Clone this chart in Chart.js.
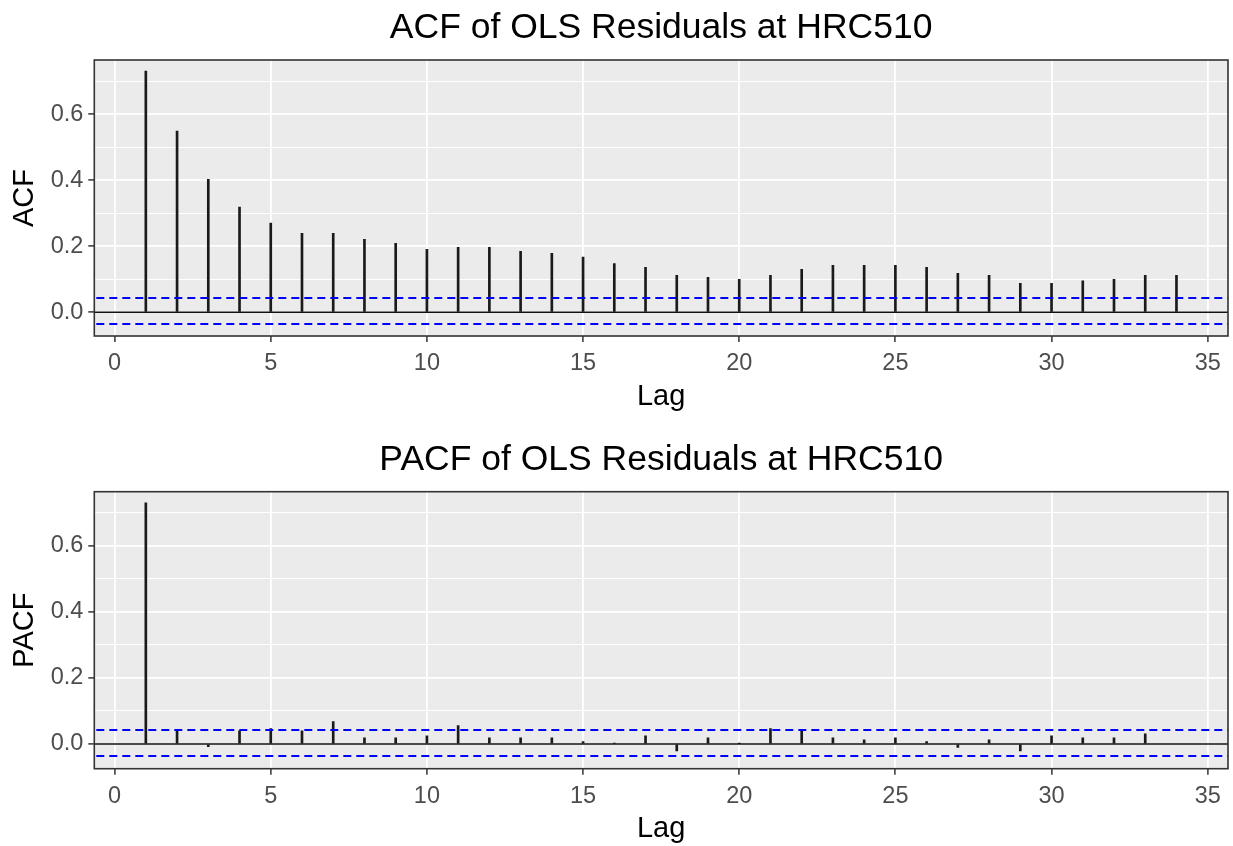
<!DOCTYPE html>
<html>
<head>
<meta charset="utf-8">
<script src="https://cdn.jsdelivr.net/npm/chart.js@4.4.0/dist/chart.umd.min.js"></script>
<style>
  html, body { margin: 0; padding: 0; background: #fff; }
  #wrap { position: relative; width: 1233px; height: 846px; }
  .panel { position: absolute; left: 0; width: 1233px; }
</style>
</head>
<body>
<div id="wrap">
  <div class="panel" style="top:0;height:432px"><canvas id="acf"></canvas></div>
  <div class="panel" style="top:432px;height:414px"><canvas id="pacf"></canvas></div>
</div>
<script>
// values
const acfLags = [1,2,3,4,5,6,7,8,9,10,11,12,13,14,15,16,17,18,19,20,21,22,23,24,25,26,27,28,29,30,31,32,33,34];
const acfValues = [0.731,0.549,0.403,0.319,0.270,0.239,0.239,0.221,0.209,0.191,0.197,0.197,0.185,0.179,0.167,0.148,0.136,0.112,0.106,0.100,0.112,0.130,0.142,0.142,0.142,0.136,0.118,0.112,0.088,0.088,0.095,0.100,0.112,0.112];
const acfBand = [0.0433, -0.0355];

const pacfLags = [1,2,3,4,5,6,7,8,9,10,11,12,13,14,15,16,17,18,19,20,21,22,23,24,25,26,27,28,29,30,31,32,33];
const pacfValues = [0.731,0.040,-0.008,0.040,0.047,0.040,0.068,0.019,0.019,0.025,0.056,0.019,0.019,0.019,0.007,0.002,0.025,-0.021,0.019,0.001,0.047,0.040,0.019,0.013,0.019,0.007,-0.010,0.013,-0.021,0.025,0.019,0.019,0.031];
const pacfBand = [0.0424, -0.036];

const xTicks = [0,5,10,15,20,25,30,35];
const yGridTicks = [0,0.1,0.2,0.3,0.4,0.5,0.6,0.7];
const yLabelTicks = [0,0.2,0.4,0.6];

const FONT = "'Liberation Sans', Arial, sans-serif";
const isMajorY = v => yLabelTicks.some(t => Math.abs(t - v) < 1e-9);

// ggplot-like panel: grey background, black frame, zero line, blue dashed bounds, title over the panel
const ggPanel = {
  id: 'ggPanel',
  beforeDraw(ch) {
    const a = ch.chartArea, c = ch.ctx;
    c.save();
    c.fillStyle = '#EBEBEB';
    c.fillRect(a.left, a.top, a.right - a.left, a.bottom - a.top);
    c.restore();
  },
  afterDatasetsDraw(ch, args, opts) {
    const a = ch.chartArea, c = ch.ctx, y = ch.scales.y;
    c.save();
    c.strokeStyle = '#111';
    c.lineWidth = 1.5;
    const y0 = y.getPixelForValue(0);
    c.beginPath(); c.moveTo(a.left, y0); c.lineTo(a.right, y0); c.stroke();
    c.strokeStyle = '#0000FF';
    c.lineWidth = 2;
    c.setLineDash([8, 5]);
    opts.band.forEach(v => {
      const py = Math.round(y.getPixelForValue(v));
      c.beginPath(); c.moveTo(a.left + 2, py); c.lineTo(a.right, py); c.stroke();
    });
    c.restore();
  },
  afterDraw(ch, args, opts) {
    const a = ch.chartArea, c = ch.ctx;
    c.save();
    c.strokeStyle = '#333';
    c.lineWidth = 1.6;
    c.strokeRect(a.left, a.top, a.right - a.left, a.bottom - a.top);
    c.fillStyle = '#000';
    c.font = '35.5px ' + FONT;
    c.textAlign = 'center';
    c.textBaseline = 'alphabetic';
    c.fillText(opts.title, (a.left + a.right) / 2, a.top - 21.7);
    c.restore();
  }
};

function acfChart(id, title, yName, lags, vals, band, yMin, yMax, areaTop, axisH, lagPad) {
  return new Chart(document.getElementById(id), {
    type: 'bar',
    data: {
      datasets: [{
        data: lags.map((l, i) => ({ x: l, y: vals[i] })),
        backgroundColor: '#1a1a1a',
        borderWidth: 0,
        barThickness: 2
      }]
    },
    options: {
      responsive: true, maintainAspectRatio: false,
      animation: false,
      layout: { padding: { top: areaTop, right: 5, left: 0, bottom: 0 } },
      plugins: {
        legend: { display: false },
        tooltip: { enabled: false },
        ggPanel: { title: title, band: band }
      },
      scales: {
        x: {
          type: 'linear', min: -0.65, max: 35.65, offset: false,
          afterBuildTicks: s => { s.ticks = xTicks.map(v => ({ value: v })); },
          afterFit: s => { s.height = axisH; },
          grid: { offset: false, color: '#fff', lineWidth: 1.8, drawTicks: true, tickLength: 6, tickColor: '#333', tickWidth: 1.5 },
          border: { display: false },
          ticks: { color: '#4D4D4D', font: { family: FONT, size: 23.5 }, padding: 7.5, maxRotation: 0, autoSkip: false },
          title: { display: true, text: 'Lag', color: '#000', font: { family: FONT, size: 29 }, padding: { top: 0, bottom: lagPad } }
        },
        y: {
          min: yMin, max: yMax,
          afterBuildTicks: s => { s.ticks = yGridTicks.map(v => ({ value: v })); },
          afterFit: s => { s.width = 94.3; },
          grid: {
            color: '#fff',
            lineWidth: ctx => isMajorY(ctx.tick.value) ? 1.8 : 1.1,
            drawTicks: true, tickLength: 6, tickWidth: 1.5,
            tickColor: ctx => isMajorY(ctx.tick.value) ? '#333' : 'rgba(0,0,0,0)'
          },
          border: { display: false },
          ticks: {
            color: '#4D4D4D', font: { family: FONT, size: 23.5 }, padding: 5, autoSkip: false,
            callback: v => isMajorY(v) ? v.toFixed(1) : ''
          },
          title: { display: true, text: yName, color: '#000', font: { family: FONT, size: 29 }, padding: { top: 8, bottom: 0 } }
        }
      }
    },
    plugins: [ggPanel]
  });
}

acfChart('acf', 'ACF of OLS Residuals at HRC510', 'ACF', acfLags, acfValues, acfBand, -0.0718, 0.7645, 60, 96, 18);
acfChart('pacf', 'PACF of OLS Residuals at HRC510', 'PACF', pacfLags, pacfValues, pacfBand, -0.0748, 0.7645, 59.7, 77.3, 0);
</script>
</body>
</html>
